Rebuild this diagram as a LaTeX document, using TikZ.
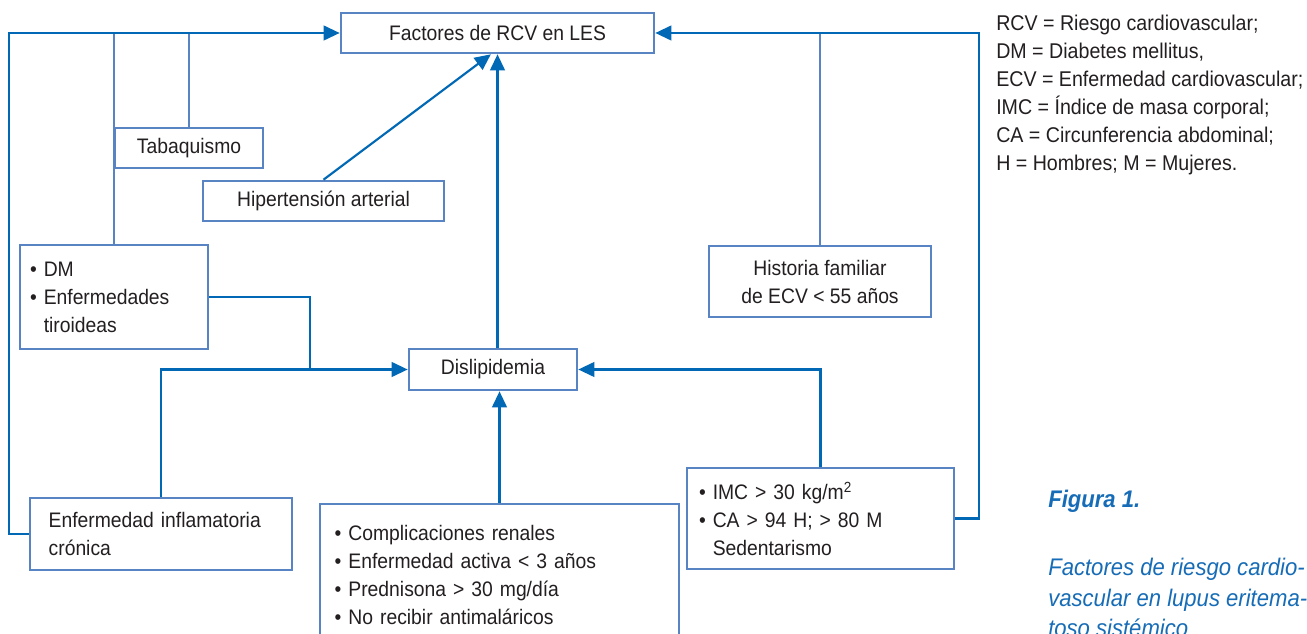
\documentclass[tikz,border=0pt]{standalone}
\usepackage{fontspec}
\setmainfont{Liberation Sans}[FakeStretch=0.92]
\usetikzlibrary{arrows.meta}
\definecolor{linec}{RGB}{0,104,180}
\definecolor{boxc}{RGB}{88,132,196}
\definecolor{txtc}{RGB}{35,31,32}
\definecolor{capc}{RGB}{22,108,182}
\begin{document}
\begin{tikzpicture}[x=0.75pt,y=-0.75pt,
 every node/.style={font=\fontsize{15.75pt}{21pt}\selectfont, text=txtc},
 box/.style={draw=boxc, line width=2pt, fill=white, inner sep=0pt},
 conn/.style={draw=linec, line width=1.6pt},
 lconn/.style={draw=boxc, line width=1.6pt},
 arr/.style={conn, -{Triangle[length=12pt,width=11pt]}},
 leg/.style={anchor=base west, inner sep=0pt, font=\fontsize{16pt}{21pt}\selectfont},
 captxt/.style={anchor=base west, inner sep=0pt, text=capc, font=\fontsize{18pt}{23pt}\selectfont\itshape}]
\useasboundingbox (0,0) rectangle (1307,634);
\clip (0,0) rectangle (1307,634);
\fill[white] (0,0) rectangle (1307,634);

% boxes
\node[box, minimum width=234.75pt, minimum height=30pt] (F) at (497.5,33) {Factores de RCV en LES};
\node[box, minimum width=111pt, minimum height=30pt] (T) at (189,148) {Tabaquismo};
\node[box, minimum width=180.75pt, minimum height=30pt] (H) at (323.5,201) {Hipertensión arterial};
\node[box, minimum width=141pt, minimum height=78pt, text width=126pt, align=left, inner xsep=7.5pt] (DM) at (114,297)
  {• DM\\• Enfermedades\\\phantom{• }tiroideas};
\node[box, minimum width=166.5pt, minimum height=53.25pt, align=center] (HF) at (820,281.5)
  {Historia familiar\\de ECV < 55 años};
\node[box, minimum width=126pt, minimum height=30.75pt] (D) at (493,369.5) {Dislipidemia};
\node[box, minimum width=196.5pt, minimum height=54pt, text width=168.5pt, align=left, inner xsep=14pt] (E) at (161,534)
  {Enfermedad inflamatoria\\crónica};
\node[box, minimum width=269.25pt, minimum height=105.75pt, text width=247.25pt, align=left, inner xsep=11pt] (C) at (499.5,574.5)
  {• Complicaciones renales\\• Enfermedad activa < 3 años\\• Prednisona > 30 mg/día\\• No recibir antimaláricos};
\node[box, minimum width=200.25pt, minimum height=75.75pt, text width=182.25pt, align=left, inner xsep=9pt] (I) at (820.5,518.5)
  {• IMC > 30 kg/m\textsuperscript{2}\\• CA > 94 H; > 80 M\\\phantom{• }Sedentarismo};

% connectors
\coordinate (TL) at (9,33);
\coordinate (RC) at (979,518.5);
\coordinate (J) at (310,369.5);
\draw[lconn] (DM.north) -- (DM.north |- F.west);
\draw[lconn] (T.north) -- (T.north |- F.west);
\draw[lconn] (HF.north) -- (HF.north |- F.east);
\draw[arr] (E.west) -| (TL) -- (F.west);
\draw[arr] (H.north) -- ([xshift=-5pt]F.south);
\draw[arr] (D.north -| F.south) -- (F.south);
\draw[arr] (I.east) -- (RC) |- (F.east);
\draw[arr] (I.north) |- (D.east);
\draw[arr] (E.north) |- (D.west);
\draw[conn] (DM.east) -| (J);
\draw[arr] (C.north) -- (C.north |- D.south);

% legend
\node[leg] (l1) at (996,30.5) {RCV = Riesgo cardiovascular;};
\node[leg] (l2) at (996,58.5) {DM = Diabetes mellitus,};
\node[leg] (l3) at (996,86.5) {ECV = Enfermedad cardiovascular;};
\node[leg] (l4) at (996,114.5) {IMC = Índice de masa corporal;};
\node[leg] (l5) at (996,142.5) {CA = Circunferencia abdominal;};
\node[leg] (l6) at (996,170.5) {H = Hombres; M = Mujeres.};

% caption
\node[captxt, font=\fontsize{18pt}{23pt}\selectfont\bfseries\itshape] (fig) at (1048,507.5) {Figura 1.};
\node[captxt] (c1) at (1048,575.5) {Factores de riesgo cardio-};
\node[captxt] (c2) at (1048,606.5) {vascular en lupus eritema-};
\node[captxt] (c3) at (1048,636.5) {toso sistémico};
\end{tikzpicture}
\end{document}
